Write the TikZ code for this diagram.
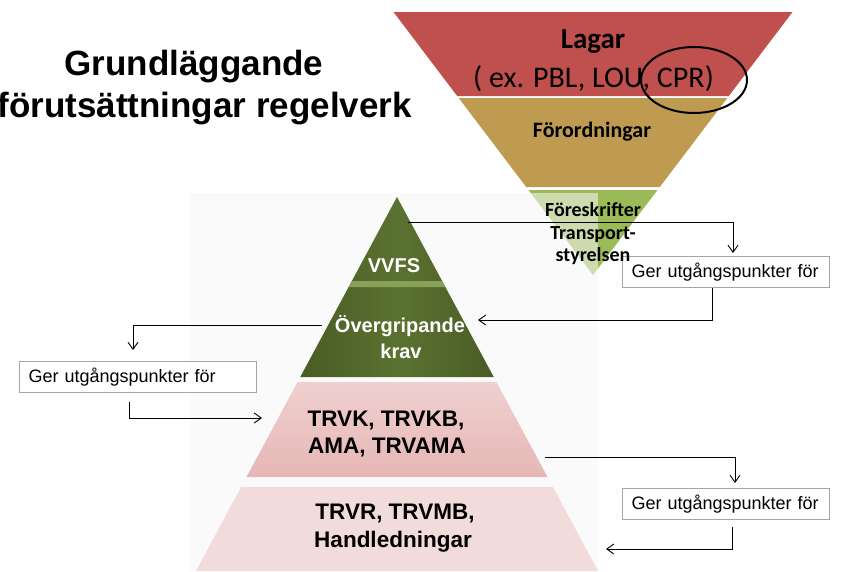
\documentclass[tikz,border=0pt]{standalone}
\usepackage{fontspec}
\setmainfont{Liberation Sans}
\newfontfamily\calfont{Carlito}
\usetikzlibrary{arrows.meta,calc,shapes.geometric}
\definecolor{lagred}{HTML}{C0504D}
\definecolor{fortan}{HTML}{BF9B52}
\definecolor{foregreen}{HTML}{9BBB59}
\definecolor{pyrdark}{HTML}{4A5C24}
\definecolor{pyrmid}{HTML}{5A7231}
\definecolor{pyrstripe}{HTML}{88A05A}
\definecolor{pinkA}{HTML}{E5B7B6}
\definecolor{pinkAtop}{HTML}{EFD0CF}
\definecolor{pinkB}{HTML}{F2DCDB}
\definecolor{boxgray}{HTML}{A6A6A6}
\definecolor{fadegray}{HTML}{F7F7F7}
\tikzset{
  tx/.style={anchor=base, inner sep=0pt},
  ttl/.style={tx, font=\bfseries\fontsize{35}{40}\selectfont},
  cal/.style={tx, font=\calfont\fontsize{#1}{#1}\selectfont},
  calb/.style={tx, font=\calfont\bfseries\fontsize{#1}{#1}\selectfont},
  wtx/.style={tx, text=white, font=\bfseries\fontsize{20}{24}\selectfont},
  btx/.style={tx, text=black, font=\bfseries\fontsize{22.5}{26}\selectfont},
  gerbox/.style={draw=boxgray, line width=1pt, fill=white, inner xsep=9pt, inner ysep=0pt,
    minimum height=31pt, align=left, anchor=north west, font=\fontsize{18}{21}\selectfont},
  conn/.style={draw=black, line width=0.9pt, -{Straight Barb[length=7pt,width=10pt]}}
}
\begin{document}
\begin{tikzpicture}[x=1pt,y=-1pt]
\useasboundingbox (0,0) rectangle (841,571);
\fill[white] (0,0) rectangle (841,571);

% title
\node[ttl] (t1) at (194,75) {Grundläggande};
\node[ttl, anchor=base east] (t2) at (412,117) {förutsättningar regelverk};

% inverted triangle
\fill[lagred] (393.5,12) -- (792.5,12) -- (728.8,96) -- (457.2,96) -- cycle;
\fill[fortan] (458.7,98) -- (727.3,98) -- (659.8,187) -- (526.2,187) -- cycle;
\fill[foregreen] (528.5,190) -- (657.5,190) -- (593,275) -- cycle;

% faded background of the lower picture
\fill[fadegray, opacity=0.55] (190,193) rectangle (598,571);

\node[calb=29] (lagar) at (593,48) {Lagar};
\node[cal=30] (ex) at (593.5,87) {( ex. PBL, LOU, CPR)};
\node[draw, ellipse, line width=2pt, minimum width=106pt, minimum height=66pt, inner sep=0pt] (cpr) at (694,80) {};
\node[calb=22] (ford) at (592,137) {Förordningar};

% lower pyramid
\shade[left color=pyrdark, right color=pyrdark, middle color=pyrmid]
  (397,197) -- (493.75,377) -- (300.25,377) -- cycle;
\fill[pyrstripe] (351.8,281) -- (442.2,281) -- (445.4,287) -- (348.6,287) -- cycle;
\shade[top color=pinkAtop, bottom color=pinkA]
  (297.6,382) -- (496.4,382) -- (547.5,477) -- (246.5,477) -- cycle;
\fill[pinkB] (241.1,487) -- (552.9,487) -- (598,571) -- (196,571) -- cycle;

\node[wtx] (vvfs) at (394,272) {VVFS};
\node[wtx] (ov1) at (400,332) {Övergripande};
\node[wtx] (ov2) at (401,358) {krav};
\node[btx] (k1) at (386,426) {TRVK, TRVKB,};
\node[btx] (k2) at (387,453) {AMA, TRVAMA};
\node[btx] (r1) at (395,519) {TRVR, TRVMB,};
\node[btx] (r2) at (393,547) {Handledningar};

% boxes
\node[gerbox, text width=189pt] (box1) at (622,256) {Ger utgångspunkter för};
\node[gerbox, text width=219pt] (box2) at (19,361) {Ger utgångspunkter för};
\node[gerbox, text width=189pt] (box3) at (622,488) {Ger utgångspunkter för};

% texts of the green band (drawn over box 1, as in the reference)
\node[calb=20] (fs1) at (593,216) {Föreskrifter};
\node[calb=20] (fs2) at (593,239) {Transport-};
\node[calb=20] (fs3) at (593,261) {styrelsen};

% connector ends
\coordinate (vR) at (408,222);
\coordinate (ovR) at (478,320);
\coordinate (ovL) at (322,325);
\coordinate (kL) at (262,418);
\coordinate (kR) at (545,457);
\coordinate (rR) at (606,549);

\draw[conn, shorten >=3pt] (vR) -| ([xshift=111pt]box1.north west);
\draw[conn] ([xshift=90pt]box1.south west) |- (ovR);
\draw[conn, shorten >=11pt] (ovL) -| ([xshift=114pt]box2.north west);
\draw[conn, shorten <=9pt] ([xshift=110pt]box2.south west) |- (kL);
\draw[conn, shorten >=5pt] (kR) -| ([xshift=113pt]box3.north west);
\draw[conn, shorten <=7pt] ([xshift=110pt]box3.south west) |- (rR);
\end{tikzpicture}
\end{document}
